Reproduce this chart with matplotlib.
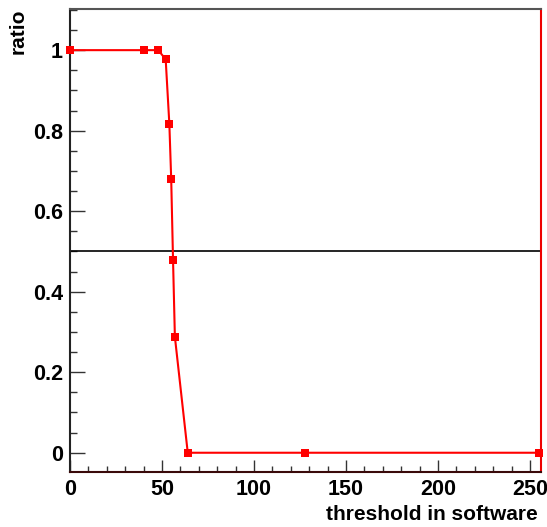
import matplotlib
matplotlib.use("Agg")
import matplotlib.pyplot as plt
from matplotlib.ticker import MultipleLocator, FormatStrFormatter

# threshold scan: fraction of events passing vs software threshold
threshold = [0, 40, 48, 52, 54, 55, 56, 57, 64, 128, 255]
ratio = [1.0, 1.0, 1.0, 0.977, 0.816, 0.680, 0.478, 0.288, 0.0, 0.0, 0.0]

plt.rcParams["font.family"] = ["Liberation Sans", "DejaVu Sans"]
plt.rcParams["font.weight"] = "bold"

fig = plt.figure(figsize=(5.47, 5.27), dpi=100)
ax = fig.add_axes([0.128, 0.105, 0.861, 0.877])

ax.axhline(0.5, color="black", linewidth=1.2, zorder=2)
ax.plot(threshold, ratio, color="#ff0000", linewidth=1.5, marker="s",
        markersize=6, markeredgewidth=0, clip_on=False, zorder=3)

ax.set_xlim(0, 256)
ax.set_ylim(-0.047, 1.101)

ax.xaxis.set_major_locator(MultipleLocator(50))
ax.xaxis.set_minor_locator(MultipleLocator(10))
ax.yaxis.set_major_locator(MultipleLocator(0.2))
ax.yaxis.set_minor_locator(MultipleLocator(0.05))
ax.yaxis.set_major_formatter(FormatStrFormatter("%g"))

ax.tick_params(axis="x", which="major", direction="in", length=8.6, width=1.0,
               labelsize=15.5, pad=5, top=False, color="#333333")
ax.tick_params(axis="x", which="minor", direction="in", length=4.3, width=1.0,
               top=False, color="#333333")
ax.tick_params(axis="y", which="major", direction="in", length=10.8, width=1.0,
               labelsize=15.5, pad=5, right=False, color="#333333")
ax.tick_params(axis="y", which="minor", direction="in", length=5, width=1.0,
               right=False, color="#333333")
for lab in ax.get_xticklabels() + ax.get_yticklabels():
    lab.set_fontweight("bold")

ax.spines["left"].set_color("#222222")
ax.spines["left"].set_linewidth(1.5)
ax.spines["top"].set_color("#555555")
ax.spines["top"].set_linewidth(1.5)
ax.spines["right"].set_color("#ee0000")
ax.spines["right"].set_linewidth(1.5)
ax.spines["bottom"].set_color("#3a0a0a")
ax.spines["bottom"].set_linewidth(1.5)

fig.text(18 / 547, 1 - 8 / 527, "ratio", rotation=90, ha="center", va="top",
         fontsize=15, fontweight="bold")
fig.text(538 / 547, 1 - 514 / 527, "threshold in software", ha="right",
         va="center", fontsize=15, fontweight="bold")

fig.savefig("out.png", dpi=100)
